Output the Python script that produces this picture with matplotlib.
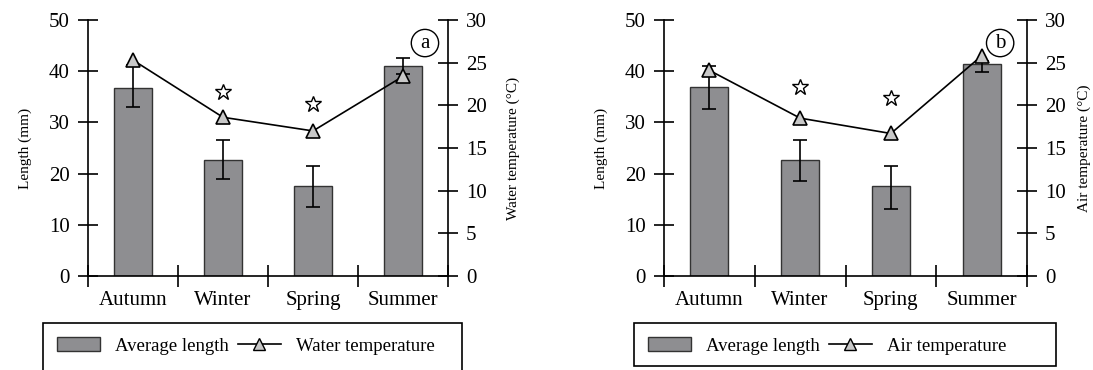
import numpy as np
import matplotlib
matplotlib.use('Agg')
import matplotlib.pyplot as plt
from matplotlib.patches import Patch, Rectangle
from matplotlib.lines import Line2D

plt.rcParams['font.family'] = ['Liberation Serif', 'DejaVu Serif']
plt.rcParams['font.size'] = 15

seasons = ['Autumn', 'Winter', 'Spring', 'Summer']

# panel a
length_a = [36.8, 22.7, 17.6, 41.0]
err_lo_a = [3.8, 3.8, 4.1, 1.5]
err_hi_a = [4.4, 3.8, 3.9, 1.6]
temp_a = [25.3, 18.6, 17.0, 23.4]
star_a = [np.nan, 21.6, 20.2, np.nan]

# panel b
length_b = [37.0, 22.6, 17.6, 41.4]
err_lo_b = [4.3, 4.0, 4.6, 1.5]
err_hi_b = [4.0, 3.9, 3.9, 0.6]
temp_b = [24.1, 18.5, 16.7, 25.8]
star_b = [np.nan, 22.1, 20.9, np.nan]

panels = [
    ('a', length_a, err_lo_a, err_hi_a, temp_a, star_a, 'Water temperature',
     'Water temperature (°C)', [88, 448], [43, 462, 323, 380], 0.936, 14),
    ('b', length_b, err_lo_b, err_hi_b, temp_b, star_b, 'Air temperature',
     'Air temperature (°C)', [664, 1027], [634, 1056, 323, 366], 0.926, 8),
]

W, H = 1093, 370
fig = plt.figure(figsize=(W / 100, H / 100), dpi=100)

bar_col = '#8e8e91'
x = np.arange(len(seasons))

for tag, length, elo, ehi, temp, star, tname, rlabel, (xl, xr), (lx0, lx1, ly0, ly1), tagx, rpad in panels:
    ax = fig.add_axes([xl / W, 94 / H, (xr - xl) / W, 256 / H])
    ax.bar(x, length, width=0.42, color=bar_col, edgecolor='#333333', linewidth=1.0, zorder=2)
    ax.errorbar(x, length, yerr=[elo, ehi], fmt='none', ecolor='black',
                elinewidth=1.2, capsize=5, capthick=1.2, zorder=3)
    ax.set_xlim(-0.5, 3.5)
    ax.set_ylim(0, 50)
    ax.set_yticks([0, 10, 20, 30, 40, 50])
    ax.set_xticks(x)
    ax.set_xticklabels(seasons)
    for lbl in ax.get_xticklabels():
        lbl.set_verticalalignment('baseline')
    ax.set_xticks(np.arange(-0.5, 4, 1), minor=True)
    ax.tick_params(axis='x', which='major', length=0, pad=21)
    ax.tick_params(axis='x', which='minor', direction='inout', length=16, width=1.2)
    ax.tick_params(axis='y', direction='inout', length=14, width=1.2, pad=6)
    ax.spines['top'].set_visible(False)
    ax.spines['right'].set_visible(False)
    for s in ['left', 'bottom']:
        ax.spines[s].set_linewidth(1.2)
    ax.set_ylabel('Length (mm)', fontsize=11, labelpad=12)

    ax2 = ax.twinx()
    ax2.plot(x, temp, color='black', linewidth=1.2, marker='^', markersize=10,
             markerfacecolor='#c8c8c8', markeredgecolor='black', markeredgewidth=1.2, zorder=4)
    ax2.plot(x, star, linestyle='none', marker='*', markersize=12,
             markerfacecolor='white', markeredgecolor='black', markeredgewidth=1.0)
    ax2.set_ylim(0, 30)
    ax2.set_yticks([0, 5, 10, 15, 20, 25, 30])
    ax2.tick_params(axis='y', direction='inout', length=14, width=1.2, pad=6)
    for s in ['top', 'left', 'bottom']:
        ax2.spines[s].set_visible(False)
    ax2.spines['right'].set_linewidth(1.2)
    ax2.set_ylabel(rlabel, fontsize=11, labelpad=rpad)

    ax2.text(tagx, 0.91, tag, transform=ax2.transAxes, ha='center', va='center',
             fontsize=15, bbox=dict(boxstyle='circle,pad=0.2', facecolor='white',
                                    edgecolor='black', linewidth=1.0))

    # legend frame drawn separately so it can be wider than the entries
    fig.patches.append(Rectangle((lx0 / W, 1 - ly1 / H), (lx1 - lx0) / W, (ly1 - ly0) / H,
                                 transform=fig.transFigure, facecolor='none',
                                 edgecolor='black', linewidth=1.2))
    handles = [Patch(facecolor=bar_col, edgecolor='#333333'),
               Line2D([0], [0], color='black', linewidth=1.2, marker='^', markersize=9,
                      markerfacecolor='#c8c8c8', markeredgecolor='black')]
    fig.legend(handles, ['Average length', tname], ncol=2,
               loc='center left', bbox_to_anchor=((lx0 + 6) / W, 1 - 346 / H),
               frameon=False, handlelength=2.3, handleheight=0.75, handletextpad=0.8,
               columnspacing=0.5, fontsize=13.5, borderaxespad=0)

fig.savefig('out.png', dpi=100)
